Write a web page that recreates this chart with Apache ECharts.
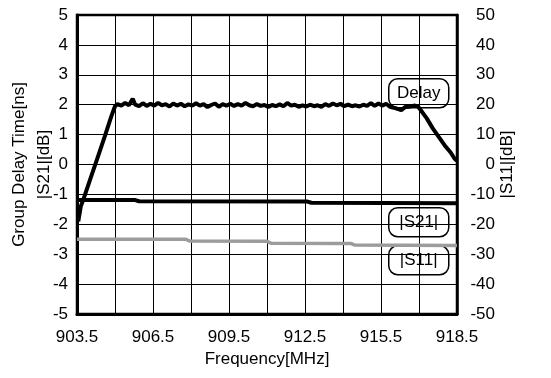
<!DOCTYPE html>
<html><head><meta charset="utf-8">
<script src="https://cdn.jsdelivr.net/npm/echarts@6/dist/echarts.min.js"></script>
<style>html,body{margin:0;padding:0;background:#fff}#c{width:551px;height:378px}</style>
</head><body><div id="c"></div>
<script>
// Frequency ticks (MHz)
const xMin = 903.5, xMax = 918.5, xStep = 1.5;
// Group delay [ns] (left axis)
const delayData = [
 [903.55,-1.9],[903.65,-1.4],[903.8,-1.05],[904.0,-0.55],[904.3,0.2],[904.6,0.95],[904.85,1.6],[905.0,1.95],
 [905.1,2.02],[905.25,1.97],[905.4,2.06],[905.55,1.98],[905.7,2.2],[905.8,2.0],[905.95,1.95],[906.1,2.05],
 [906.25,1.96],[906.4,2.03],[906.55,1.97],[906.7,2.06],[906.85,1.98],[907.0,2.02],[907.15,1.94],[907.3,2.04],
 [907.45,1.97],[907.6,2.03],[907.75,1.95],[907.9,2.01],[908.05,1.97],[908.2,2.05],[908.35,1.97],[908.5,2.02],
 [908.65,1.92],[908.8,1.99],[908.95,2.04],[909.1,1.93],[909.25,2.02],[909.4,1.97],[909.55,2.03],[909.7,1.96],
 [909.85,2.02],[910.0,1.97],[910.15,2.06],[910.3,1.98],[910.45,1.95],[910.6,2.02],[910.75,1.96],[910.9,1.99],
 [911.05,1.92],[911.2,1.99],[911.35,1.95],[911.5,2.01],[911.65,1.95],[911.8,2.06],[911.95,1.97],[912.1,2.0],
 [912.25,1.93],[912.4,1.98],[912.55,1.94],[912.7,2.0],[912.85,1.95],[913.0,1.98],[913.15,1.93],[913.3,2.02],
 [913.45,1.96],[913.6,2.04],[913.75,1.98],[913.9,2.03],[914.05,1.95],[914.2,2.0],[914.35,1.95],[914.5,1.98],
 [914.65,1.94],[914.8,2.0],[914.95,1.96],[915.1,2.05],[915.25,1.96],[915.4,2.04],[915.55,1.97],[915.7,2.03],
 [915.85,1.93],[916.0,1.9],[916.15,1.86],[916.3,1.82],[916.45,1.92],[916.6,1.93],[916.8,1.97],[916.95,1.95],
 [917.1,1.78],[917.3,1.55],[917.55,1.2],[917.8,0.9],[918.05,0.6],[918.25,0.4],[918.4,0.2],[918.5,0.12]
];
// |S21| [dB] (left axis)
const s21Data = [[903.5,-1.19],[905.8,-1.19],[905.95,-1.23],[912.6,-1.24],[912.75,-1.28],[918.5,-1.3]];
// |S11| [dB] (right axis)
const s11Data = [[903.5,-25.0],[907.8,-25.0],[907.95,-25.6],[911.0,-25.7],[911.15,-26.3],[914.3,-26.4],[914.45,-26.9],[918.5,-27.1]];
// tick label sets
const leftTicks = {min:-5, max:5, interval:1};
const rightTicks = {min:-50, max:50, interval:10};
const labelNames = ['Delay','|S21|','|S11|'];

const FONT = '"Liberation Sans", Arial, sans-serif';
const chart = echarts.init(document.getElementById('c'), null, {renderer:'canvas'});
function box(text, x, y){
  return {type:'group', left:x, top:y, children:[
    {type:'rect', shape:{x:0,y:0,width:60,height:29,r:9}, style:{fill:'#fff', stroke:'#000', lineWidth:1.5}},
    {type:'text', x:30, y:15, style:{text:text, font:'17px '+FONT, fill:'#000', align:'center', verticalAlign:'middle'}}
  ]};
}
chart.setOption({
  animation:false,
  backgroundColor:'#fff',
  grid:{left:77, right:94, top:15, bottom:64, outerBoundsMode:'none', containLabel:false, show:true, borderColor:'#000', borderWidth:2.5, backgroundColor:'transparent'},
  xAxis:{
    type:'value', min:xMin, max:xMax, interval:xStep,
    name:'Frequency[MHz]', nameLocation:'middle', nameGap:37, nameMoveOverlap:false,
    nameTextStyle:{fontFamily:FONT, fontSize:17, color:'#000'},
    axisLine:{show:true, onZero:false, lineStyle:{color:'#000', width:3}},
    axisTick:{show:false},
    splitLine:{show:true, lineStyle:{color:'#000', width:1}},
    axisLabel:{fontFamily:FONT, fontSize:17, color:'#000', margin:15,
      formatter:function(v){ const k=Math.round((v-xMin)/xStep); return k%2===0 ? v.toFixed(1) : ''; }}
  },
  yAxis:[{
    type:'value', min:leftTicks.min, max:leftTicks.max, interval:leftTicks.interval,
    name:'Group Delay Time[ns]\n|S21|[dB]', nameLocation:'middle', nameGap:20, nameRotate:90, nameMoveOverlap:false,
    nameTextStyle:{fontFamily:FONT, fontSize:17, color:'#000', lineHeight:25},
    axisLine:{show:true, onZero:false, lineStyle:{color:'#000', width:3}},
    axisTick:{show:false},
    splitLine:{show:true, lineStyle:{color:'#000', width:1}},
    axisLabel:{fontFamily:FONT, fontSize:17, color:'#000', margin:9}
  },{
    type:'value', min:rightTicks.min, max:rightTicks.max, interval:rightTicks.interval, position:'right',
    name:'|S11|[dB]', nameLocation:'middle', nameGap:42, nameRotate:90, nameMoveOverlap:false,
    nameTextStyle:{fontFamily:FONT, fontSize:17, color:'#000'},
    axisLine:{show:true, onZero:false, lineStyle:{color:'#000', width:2.5}},
    axisTick:{show:false},
    splitLine:{show:false},
    axisLabel:{fontFamily:FONT, fontSize:17, color:'#000', margin:38, align:'right'}
  }],
  series:[
    {name:labelNames[2], type:'line', yAxisIndex:1, data:s11Data, showSymbol:false, z:3,
      lineStyle:{color:'#9c9c9c', width:3.5}},
    {name:labelNames[1], type:'line', yAxisIndex:0, data:s21Data, showSymbol:false, z:4,
      lineStyle:{color:'#000', width:4}},
    {name:labelNames[0], type:'line', yAxisIndex:0, data:delayData, showSymbol:false, z:5,
      lineStyle:{color:'#000', width:4}}
  ],
  graphic:[ box(labelNames[0],388,78), box(labelNames[1],388,207), box(labelNames[2],388,245) ]
});
</script></body></html>
